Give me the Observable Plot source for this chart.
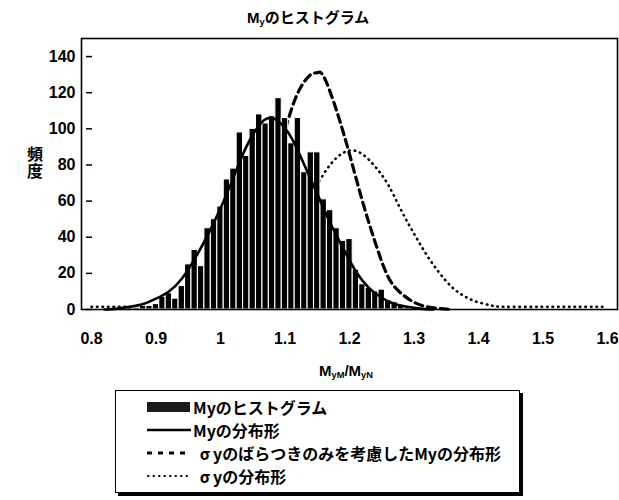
<!DOCTYPE html>
<html>
<head>
<meta charset="utf-8">
<script src="https://cdn.jsdelivr.net/npm/d3@7"></script>
<script src="https://cdn.jsdelivr.net/npm/@observablehq/plot@0.6"></script>
<style>
  body { margin: 0; background: #fff; }
  #chart { position: relative; width: 619px; height: 500px; font-family: "Liberation Sans", Arial, "Noto Sans CJK JP", sans-serif; color: #000; }
  #chart > svg { position: absolute; left: 0; top: 0; }
  .jp { font-family: "Noto Sans CJK JP", sans-serif; font-weight: 700; }
  .fw { display: inline-block; width: 1em; text-align: center; }
  #title { position: absolute; left: 247px; top: 6px; font-size: 15px; font-weight: 700; white-space: nowrap; }
  #title sub, #xlabel sub { font-size: 0.62em; vertical-align: -0.25em; }
  #ylabel { position: absolute; left: 23px; top: 146px; font-size: 16px; writing-mode: vertical-rl; letter-spacing: 1px; }
  #xlabel { position: absolute; left: 319px; top: 362px; font-size: 15px; font-weight: 700; white-space: nowrap; font-family: "Liberation Sans", Arial, sans-serif; }
  #legend { position: absolute; left: 115px; top: 390px; width: 405px; height: 103px; border: 1px solid #000; box-shadow: 3px 3px 0 #000; background: #fff; box-sizing: border-box; }
  #legend .row { position: absolute; left: 31px; height: 22px; display: flex; align-items: center; white-space: nowrap; font-size: 16px; }
  #legend .row svg { display: block; flex: none; }
</style>
</head>
<body>
<div id="chart">
  <div id="title"><span style="font-family:'Liberation Sans',Arial,sans-serif">M<sub>y</sub></span><span class="jp">のヒストグラム</span></div>
  <div id="ylabel" class="jp">頻度</div>
  <div id="xlabel">M<sub>yM</sub>/M<sub>yN</sub></div>
  <div id="legend"></div>
</div>
<script>
// Histogram of My (bin centres, counts per 0.01 bin)
const binCenters = [0.86, 0.87, 0.88, 0.89, 0.90, 0.91, 0.92, 0.93, 0.94, 0.95, 0.96, 0.97, 0.98, 0.99,
  1.00, 1.01, 1.02, 1.03, 1.04, 1.05, 1.06, 1.07, 1.08, 1.09, 1.10, 1.11, 1.12, 1.13, 1.14, 1.15,
  1.16, 1.17, 1.18, 1.19, 1.20, 1.21, 1.22, 1.23, 1.24, 1.25, 1.26, 1.27, 1.28, 1.29, 1.30];
const binCounts = [1, 1, 2, 2, 3, 7, 9, 6, 13, 25, 33, 24, 45, 50,
  57, 72, 78, 98, 85, 100, 108, 103, 107, 117, 106, 92, 106, 76, 87, 87,
  61, 55, 45, 38, 39, 22, 14, 12, 10, 11, 5, 4, 2, 1, 1];

// Distribution of My (solid)
const myX = [0.82, 0.84, 0.86, 0.88, 0.90, 0.92, 0.94, 0.96, 0.98, 1.00, 1.02, 1.04, 1.06, 1.075, 1.09,
  1.11, 1.13, 1.15, 1.17, 1.19, 1.21, 1.23, 1.25, 1.27, 1.29, 1.31, 1.33];
const myY = [0, 0.5, 1.5, 3, 6, 10, 17, 28, 41, 56, 73, 90, 102, 106, 104,
  95, 80, 64, 48, 34, 21, 12, 6.5, 3, 1.5, 0.5, 0];

// Distribution of My considering only the scatter of σy (dashed)
const sigOnlyX = [1.00, 1.02, 1.04, 1.06, 1.08, 1.10, 1.12, 1.14, 1.15, 1.16, 1.18, 1.20, 1.22, 1.24,
  1.26, 1.28, 1.30, 1.32, 1.34, 1.36];
const sigOnlyY = [7, 15, 28, 48, 73, 99, 120, 130, 131, 129, 110, 86, 60, 37,
  18, 9, 4, 1.5, 0.5, 0];

// Distribution of σy (dotted)
const sigmaX = [0.80, 0.85, 0.90, 0.95, 1.00, 1.04, 1.08, 1.10, 1.12, 1.14, 1.16, 1.18, 1.20, 1.22, 1.24,
  1.26, 1.28, 1.30, 1.32, 1.34, 1.36, 1.38, 1.40, 1.42, 1.44, 1.50, 1.55, 1.60];
const sigmaY = [1.5, 1.5, 1.5, 2, 3, 10, 24, 36, 49, 62, 75, 84, 88, 86, 79,
  69, 55, 42, 30, 20, 12, 7, 4, 2.2, 1.5, 1.5, 1.5, 1.5];

const xTicks = [0.8, 0.9, 1, 1.1, 1.2, 1.3, 1.4, 1.5, 1.6];
const yTicks = [0, 20, 40, 60, 80, 100, 120, 140];

const hist = binCenters.map((c, i) => ({x: c, count: binCounts[i]}));
const pts = (xs, ys) => xs.map((x, i) => ({x, y: ys[i]}));

const plot = Plot.plot({
  width: 619,
  height: 500,
  marginLeft: 86,
  marginRight: 7,
  marginTop: 38,
  marginBottom: 191,
  style: {background: "transparent", color: "#000", fontFamily: "'Liberation Sans', Arial, sans-serif"},
  x: {domain: [0.8, 1.6], range: [91, 607]},
  y: {domain: [0, 150]},
  marks: [
    // curves sit behind the columns; the solid distribution goes on top
    Plot.line(pts(sigmaX, sigmaY), {x: "x", y: "y", curve: "natural", stroke: "#000", strokeWidth: 2.6, strokeDasharray: "0.5,5", strokeLinecap: "round"}),
    Plot.line(pts(sigOnlyX, sigOnlyY), {x: "x", y: "y", curve: "natural", stroke: "#000", strokeWidth: 3.2, strokeDasharray: "8,5"}),
    Plot.rectY(hist, {x1: d => d.x - 0.005, x2: d => d.x + 0.005, y: "count", fill: "#000", stroke: "#fff", strokeWidth: 1.1}),
    Plot.line(pts(myX, myY), {x: "x", y: "y", curve: "natural", stroke: "#000", strokeWidth: 2.6}),
    Plot.axisX({ticks: xTicks, tickSize: 0, tickPadding: 23, fontSize: 16, fontWeight: "bold", tickFormat: d => String(d), label: null}),
    Plot.axisY({ticks: yTicks, tickSize: 0, tickPadding: 11, fontSize: 16, fontWeight: "bold", label: null}),
    Plot.axisY({ticks: yTicks, tickSize: 6, dx: 6, tickFormat: () => "", label: null, strokeWidth: 1.5}),
    Plot.frame({stroke: "#000", strokeWidth: 1.6, insetLeft: -5, insetRight: -5})
  ]
});
document.getElementById("chart").prepend(plot);

// Legend
const legendItems = [
  {label: "Myのヒストグラム", kind: "bar"},
  {label: "Myの分布形", kind: "solid"},
  {label: "σyのばらつきのみを考慮したMyの分布形", kind: "dashed"},
  {label: "σyの分布形", kind: "dotted"}
];
const legend = document.getElementById("legend");
legendItems.forEach((item, i) => {
  const row = document.createElement("div");
  row.className = "row";
  row.style.top = (5 + i * 23) + "px";
  let sym = "";
  let gap = 2;
  if (item.kind === "bar") sym = `<rect x="0" y="6" width="43" height="10" fill="#1a1a1a"/>`;
  if (item.kind === "solid") sym = `<line x1="0" y1="11" x2="44" y2="11" stroke="#000" stroke-width="2.5"/>`;
  if (item.kind === "dashed") { sym = `<line x1="0" y1="11" x2="40" y2="11" stroke="#000" stroke-width="3" stroke-dasharray="5,6"/>`; gap = 6; }
  if (item.kind === "dotted") { sym = `<line x1="1" y1="11" x2="40" y2="11" stroke="#000" stroke-width="2" stroke-dasharray="0.5,5" stroke-linecap="round"/>`; gap = 6; }
  const label = item.label.replace("σ", '<span class="fw">σ</span>');
  row.innerHTML = `<svg width="44" height="22">${sym}</svg><span class="jp" style="margin-left:${gap}px">${label}</span>`;
  legend.appendChild(row);
});
</script>
</body>
</html>
